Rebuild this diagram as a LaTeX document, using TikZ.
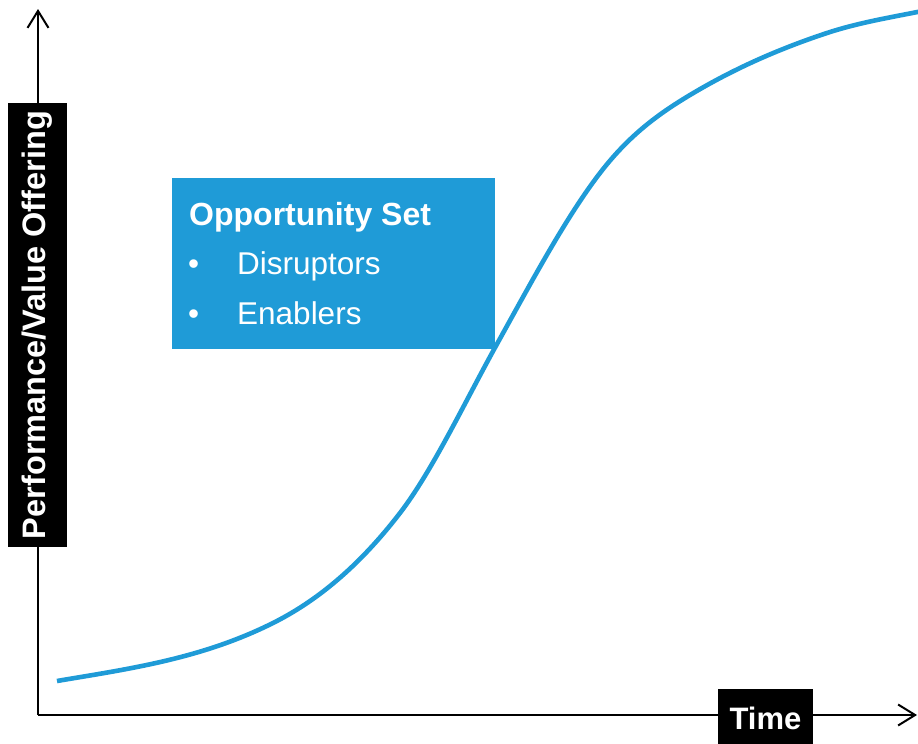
\documentclass[tikz,border=0pt]{standalone}
\usepackage{fontspec}
\setmainfont{Liberation Sans}
\usetikzlibrary{arrows.meta}
\definecolor{curveblue}{RGB}{31,155,215}
\definecolor{boxblue}{RGB}{31,155,215}
\tikzset{
  axisline/.style={line width=2pt, -{Straight Barb[length=17pt,width=21pt,line width=2pt]}},
  axislabel/.style={fill=black, text=white, font=\fontsize{32.5}{36}\selectfont\bfseries, inner sep=0pt},
  boxtext/.style={text=white, anchor=base west, inner sep=0pt, font=\fontsize{31.5}{36}\selectfont},
  scurve/.style={curveblue, line width=4.6pt}
}
\begin{document}
\begin{tikzpicture}[x=1pt,y=-1pt]
\useasboundingbox (0,0) rectangle (918,744);
\coordinate (origin) at (38,715);
\coordinate (ytop) at (38,9);
\coordinate (xend) at (917,715);
\draw[axisline] (origin) -- (ytop);
\draw[axisline] (origin) -- (xend);
% S-curve
\coordinate (p0) at (57,681);
\coordinate (p1) at (273,623);
\coordinate (p2) at (400,513);
\coordinate (p3) at (497,344);
\coordinate (p4) at (600,173);
\coordinate (p5) at (690,95);
\coordinate (p6) at (827,33);
\coordinate (p7) at (920,11.5);
\draw[scurve] (p0) .. controls (129,668.8) and (201,659) .. (p1)
  .. controls (315.3,601.8) and (357.7,568) .. (p2)
  .. controls (432.3,471) and (464.7,402.2) .. (p3)
  .. controls (531.3,282.2) and (565.7,217.6) .. (p4)
  .. controls (630,134) and (660,113) .. (p5)
  .. controls (735.7,67.6) and (781.3,48.1) .. (p6)
  .. controls (857.3,23) and (888.7,17.7) .. (p7);
% opportunity box
\node[fill=boxblue, minimum width=323pt, minimum height=171pt, inner sep=0pt, anchor=north west] (opp) at (172,178) {};
\node[boxtext, font=\fontsize{32}{36}\selectfont\bfseries] (title) at (189,225) {Opportunity Set};
\node[boxtext] (b1) at (188,274) {•};
\node[boxtext] (t1) at (237,274) {Disruptors};
\node[boxtext] (b2) at (188,324) {•};
\node[boxtext] (t2) at (237,324) {Enablers};
% axis labels
\node[axislabel, minimum width=444pt, minimum height=59pt, rotate=90] (ylab) at (37.5,325) {Performance/Value Offering};
\node[axislabel, font=\fontsize{31}{36}\selectfont\bfseries, minimum width=95pt, minimum height=56pt, text depth=0pt] (xlab) at (765.5,717) {\raisebox{-2pt}{Time}};
\end{tikzpicture}
\end{document}
